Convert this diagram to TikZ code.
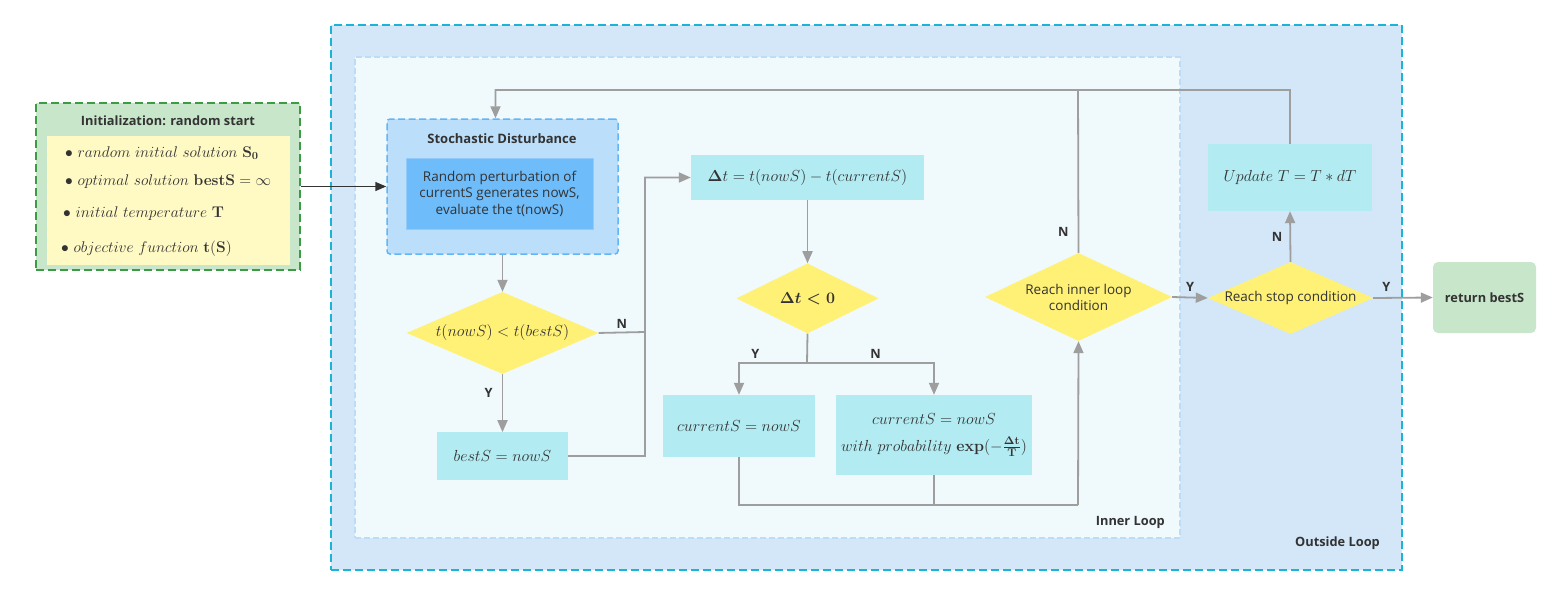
\RequirePackage{fix-cm}
\documentclass[tikz,border=0pt]{standalone}
\usepackage{amsmath}
\usepackage[no-math]{fontspec}
\newfontfamily\sansf{Open Sans}
\usetikzlibrary{positioning,arrows.meta,shapes.geometric}
\definecolor{cOuter}{HTML}{D3E7F9}
\definecolor{cOuterB}{HTML}{1BB3D6}
\definecolor{cInner}{HTML}{F0F9FC}
\definecolor{cInnerB}{HTML}{BFDCF5}
\definecolor{cInit}{HTML}{C8E6C9}
\definecolor{cInitB}{HTML}{3E9B45}
\definecolor{cList}{HTML}{FFF9C4}
\definecolor{cSd}{HTML}{BBDEFB}
\definecolor{cSdB}{HTML}{64B5F6}
\definecolor{cSdIn}{HTML}{6EBCFA}
\definecolor{cProc}{HTML}{B2EBF2}
\definecolor{cDec}{HTML}{FFF176}
\definecolor{cLine}{HTML}{9E9E9E}
\definecolor{cText}{HTML}{333333}
\newcommand\mathfs{\fontsize{16}{19}\selectfont}
\tikzset{
  base/.style={align=center,text=cText,inner sep=2pt},
  proc/.style={base,fill=cProc,font=\mathfs},
  dec/.style={base,diamond,fill=cDec,inner sep=0pt},
  txt/.style={base,font=\sansf\fontsize{13.5}{16}\selectfont},
  lbl/.style={base,font=\sansf\bfseries\fontsize{12.8}{15}\selectfont},
  yn/.style={lbl,inner sep=1pt},
  item/.style={base,anchor=west,font=\fontsize{15.5}{18}\selectfont},
  outerbox/.style={fill=cOuter,draw=cOuterB,line width=2pt,dash pattern=on 8pt off 4pt},
  innerbox/.style={fill=cInner,draw=cInnerB,line width=1.5pt,dash pattern=on 6pt off 3pt},
  initbox/.style={fill=cInit,draw=cInitB,line width=2.2pt,dash pattern=on 8pt off 4pt,minimum width=264pt,minimum height=167pt},
  listbox/.style={fill=cList,minimum width=243pt,minimum height=129pt},
  sdbox/.style={fill=cSd,draw=cSdB,line width=1.5pt,dash pattern=on 7pt off 3.5pt,rounded corners=3pt},
  sdinner/.style={txt,fill=cSdIn,draw=cSdB!70,font=\sansf\fontsize{13.5}{16.5}\selectfont},
  endbox/.style={lbl,fill=cInit,rounded corners=5pt},
  arr/.style={-{Triangle[length=12pt,width=10pt]},line width=1.8pt,draw=cLine},
  line/.style={line width=1.8pt,draw=cLine},
  darr/.style={-{Triangle[length=11pt,width=9pt]},line width=1.5pt,draw=cText}}
\begin{document}
\begin{tikzpicture}[x=1pt,y=-1pt]
\useasboundingbox (0,0) rectangle (1561,595);
% loop frames
\node[outerbox,minimum width=1071pt,minimum height=545pt] (outer) at (866.5,297.5) {};
\node[innerbox,minimum width=825pt,minimum height=481pt] (inner) at (767.5,297.5) {};
\node[lbl,anchor=east] (outerlbl) at (1382,543) {Outside Loop};
\node[lbl,anchor=east] (innerlbl) at (1167,522) {Inner Loop};
% initialization
\node[initbox] (init) at (168,186.5) {};
\node[lbl] (inittitle) at (168,121) {Initialization: random start};
\node[listbox] (initlist) at (168.5,200.5) {};
\node[item] (i1) at (63,153) {$\bullet\ random\ initial\ solution\ \mathbf{S_0}$};
\node[item] (i2) at (63,182) {$\bullet\ optimal\ solution\ \mathbf{bestS}=\infty$};
\node[item] (i3) at (61,214) {$\bullet\ initial\ temperature\ \mathbf{T}$};
\node[item] (i4) at (59,249) {$\bullet\ objective\ function\ \mathbf{t(S)}$};
% inner loop
\node[sdbox,minimum width=231pt,minimum height=135pt] (sd) at (502.5,186.5) {};
\node[lbl,font=\sansf\bfseries\fontsize{13}{15}\selectfont] (sdtitle) at (502,139) {Stochastic Disturbance};
\node[sdinner,minimum width=187pt,minimum height=71pt] (sdtext) at (499.5,193.5) {Random perturbation of\\ currentS generates nowS,\\ evaluate the t(nowS)};
\node[dec,aspect=2.34,minimum width=192pt,minimum height=82pt,below=37pt of sd,font=\mathfs] (d1) {$t(nowS)<t(bestS)$};
\node[proc,minimum width=131pt,minimum height=48pt,below=58pt of d1] (best) {$bestS=nowS$};
\node[proc,minimum width=233pt,minimum height=45pt] (dt) at (807.5,177.5) {$\mathbf{\Delta}t=t(nowS)-t(currentS)$};
\node[dec,aspect=2.03,minimum width=142pt,minimum height=70pt,below=63pt of dt,font=\mathfs] (d2) {$\boldsymbol{\Delta t<0}$};
\node[proc,minimum width=152pt,minimum height=62pt] (cur) at (739,426) {$currentS=nowS$};
\node[proc,minimum width=196pt,minimum height=80pt] (prob) at (934,435) {$currentS=nowS$\\[8pt] $with\ probability\ \mathbf{exp(-\frac{\Delta t}{T})}$};
\node[dec,txt,aspect=2.125,minimum width=187pt,minimum height=88pt] (d3) at (1078.5,297) {Reach inner loop\\ condition};
% outside loop
\node[dec,txt,aspect=2.29,inner sep=-3pt,minimum width=165pt,minimum height=72pt] (d4) at (1290.5,298) {Reach stop condition};
\node[proc,minimum width=164pt,minimum height=67pt] (upd) at (1290,177.5) {$Update\ T=T*dT$};
\node[endbox,minimum width=103pt,minimum height=71pt] (ret) at (1484.5,297.5) {return bestS};
% connectors
\coordinate (jn) at (645,332);
\coordinate (split) at (807,363);
\coordinate (jb) at (1078,505);
\coordinate (top) at (1078,90);
\draw[darr] (init) -- (sd);
\draw[arr] (sd) -- (d1);
\draw[arr] (d1) -- node[yn,pos=.33,left=8pt] {Y} (best);
\draw[arr] (d1.east) -- node[yn,above=2pt] {N} (jn) |- (dt.west);
\draw[line] (best.east) -| (jn);
\draw[arr] (dt) -- (d2);
\draw[line] (d2.south) -- (split);
\draw[arr] (split) -| node[yn,pos=.38,above=3pt] {Y} (cur.north);
\draw[arr] (split) -| node[yn,pos=.27,above=3pt] {N} (prob.north);
\draw[line] (cur.south) |- (jb);
\draw[line] (prob.south) -- (prob.south |- jb);
\draw[arr] (jb) -- (d3.south);
\draw[arr] (d3.north) -- node[yn,pos=.13,left=8pt] {N} (top) -| ([xshift=-7pt]sd.north);
\draw[line] (upd.north) |- (top);
\draw[arr] (d3.east) -- node[yn,above=4pt] {Y} (d4.west);
\draw[arr] (d4.north) -- node[yn,left=6pt] {N} (upd.south);
\draw[arr] (d4.east) -- node[yn,pos=.22,above=4pt] {Y} (ret.west);
\end{tikzpicture}
\end{document}
